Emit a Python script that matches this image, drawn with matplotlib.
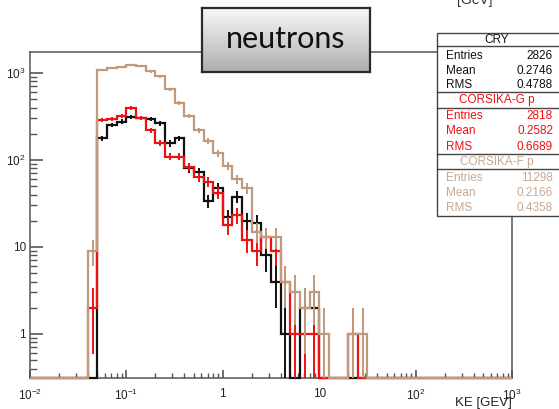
import numpy as np
import matplotlib
matplotlib.use("Agg")
import matplotlib.pyplot as plt
from matplotlib.patches import Rectangle
from matplotlib.lines import Line2D
from matplotlib.ticker import FixedLocator, LogLocator, NullFormatter

plt.rcParams['font.family'] = ['Liberation Sans', 'DejaVu Sans']
plt.rcParams['mathtext.fontset'] = 'custom'
plt.rcParams['mathtext.rm'] = 'Liberation Sans'
plt.rcParams['mathtext.it'] = 'Liberation Sans'

W, H = 559, 409

# 0.1-decade log bins from 1e-2 to 1e3, counts start at bin 6 (0.04 GeV)
log_edges = np.round(np.arange(-2.0, 3.0001, 0.1), 2)
first_bin = 6

cry = [0, 177, 253, 276, 315, 302, 294, 264, 155, 177, 80, 72, 34, 47, 22, 38,
       20, 19, 8, 4, 1, 0, 2, 2]
corsika_g = [2, 288, 294, 320, 393, 302, 221, 156, 109, 109, 84, 63, 56, 42, 18,
             23, 12, 9, 13, 9, 4, 1, 1, 1, 0, 0, 0, 1]
corsika_f = [9, 1080, 1130, 1160, 1230, 1200, 1040, 910, 650, 450, 320, 220, 165,
             120, 85, 60, 47, 15, 13, 13, 4, 3, 2, 3, 1, 0, 0, 1, 1]

names = ["CRY", "CORSIKA-G p", "CORSIKA-F p"]
entries = ["2826", "2818", "11298"]
means = ["0.2746", "0.2582", "0.2166"]
rmss = ["0.4788", "0.6689", "0.4358"]

x_ticks = [1e-2, 1e-1, 1, 10, 1e2, 1e3]
x_labels = [r'$10^{-2}$', r'$10^{-1}$', '1', '10', r'$10^{2}$', r'$10^{3}$']
y_ticks = [1, 10, 1e2, 1e3]
y_labels = ['1', '10', r'$10^{2}$', r'$10^{3}$']

c_black = '#111111'
c_red = '#ee1111'
c_tan = '#c09a7c'
c_tan_txt = '#c7a893'

YMIN, YMAX = 0.312, 1740


def full(counts):
    arr = np.zeros(len(log_edges) - 1)
    arr[first_bin:first_bin + len(counts)] = counts
    return arr


def px(x, y):
    return x / W, 1 - y / H


fig = plt.figure(figsize=(W / 100, H / 100), dpi=100)
ax = fig.add_axes([30 / W, 31 / H, 482 / W, 326 / H])

edges = 10 ** log_edges
centers = 10 ** ((log_edges[:-1] + log_edges[1:]) / 2)

for counts, col in [(cry, c_black), (corsika_g, c_red), (corsika_f, c_tan)]:
    v = full(counts)
    shown = np.where(v > 0, v, YMIN)
    ax.stairs(shown, edges, baseline=None, color=col, lw=1.6, clip_on=False, zorder=3)
    nz = v > 0
    err = np.sqrt(v[nz])
    lo = np.maximum(v[nz] - err, YMIN * 0.5)
    ax.vlines(centers[nz], lo, v[nz] + err, color=col, lw=1.4, zorder=3)

ax.set_xscale('log')
ax.set_yscale('log')
ax.set_xlim(1e-2, 1e3)
ax.set_ylim(YMIN, YMAX)

ax.xaxis.set_major_locator(FixedLocator(x_ticks))
ax.set_xticklabels(x_labels)
ax.yaxis.set_major_locator(FixedLocator(y_ticks))
ax.set_yticklabels(y_labels)
ax.xaxis.set_minor_locator(LogLocator(base=10, subs=np.arange(2, 10), numticks=20))
ax.yaxis.set_minor_locator(LogLocator(base=10, subs=np.arange(2, 10), numticks=20))
ax.xaxis.set_minor_formatter(NullFormatter())
ax.yaxis.set_minor_formatter(NullFormatter())

ax.tick_params(axis='both', which='both', direction='in', colors='#555555',
               labelcolor='#222222', labelsize=8.5)
ax.tick_params(axis='y', which='major', length=9, width=1.2, pad=3)
ax.tick_params(axis='y', which='minor', length=5, width=1)
ax.tick_params(axis='x', which='major', length=6, width=1.2, pad=7)
ax.tick_params(axis='x', which='minor', length=3.5, width=1)
for s in ax.spines.values():
    s.set_color('#555555')
    s.set_linewidth(1.1)
    s.set_zorder(1)

ax.text(1.0, -0.076, 'KE [GEV]', transform=ax.transAxes, ha='right', va='center',
        fontsize=9.5, color='#222222')

# label mostly cut off at the top edge
fig.text(475 / W, 1 - 4 / H, '[GeV]', ha='center', va='baseline', fontsize=10,
         color='#333333')

# title box with gradient
tax = fig.add_axes([202 / W, 1 - 72 / H, 168 / W, 64 / H], zorder=5)
grad = np.linspace(0.97, 0.68, 64).reshape(-1, 1)
tax.imshow(grad, cmap='gray', vmin=0, vmax=1, aspect='auto', extent=[0, 1, 0, 1])
tax.set_xticks([])
tax.set_yticks([])
for s in tax.spines.values():
    s.set_color('#2b2b2b')
    s.set_linewidth(1.6)
tax.text(0.5, 0.52, 'neutrons', ha='center', va='center', fontsize=22,
         family=['Lato', 'DejaVu Sans'], color='#111111', transform=tax.transAxes)

# stats box
bx0, bx1, by0, by1 = 437, 560, 33, 216
x0, y0 = px(bx0, by1)
fig.patches.append(Rectangle((x0, y0), (bx1 - bx0) / W, (by1 - by0) / H,
                             transform=fig.transFigure, facecolor='white',
                             edgecolor='#444444', lw=1.0, zorder=4))
header_y = [40, 100, 162]
header_lines = [46, 92, 108, 154, 169]
row_ys = [[56, 71, 85], [116, 131, 147], [178, 193, 208]]
text_cols = [c_black, c_red, c_tan_txt]
for yy in header_lines:
    xa, ya = px(bx0, yy)
    xb, _ = px(bx1, yy)
    fig.lines.append(Line2D([xa, xb], [ya, ya], transform=fig.transFigure,
                            color='#444444', lw=1.0, zorder=5))
for i in range(3):
    col = text_cols[i]
    fig.text(*px(497, header_y[i]), names[i], ha='center', va='center',
             fontsize=8.5, color=col, zorder=6)
    for lab, val, yy in zip(['Entries', 'Mean', 'RMS'],
                            [entries[i], means[i], rmss[i]], row_ys[i]):
        fig.text(*px(446, yy), lab, ha='left', va='center', fontsize=8.5,
                 color=col, zorder=6)
        fig.text(*px(553, yy), val, ha='right', va='center', fontsize=8.5,
                 color=col, zorder=6)

fig.savefig('out.png', dpi=100)
